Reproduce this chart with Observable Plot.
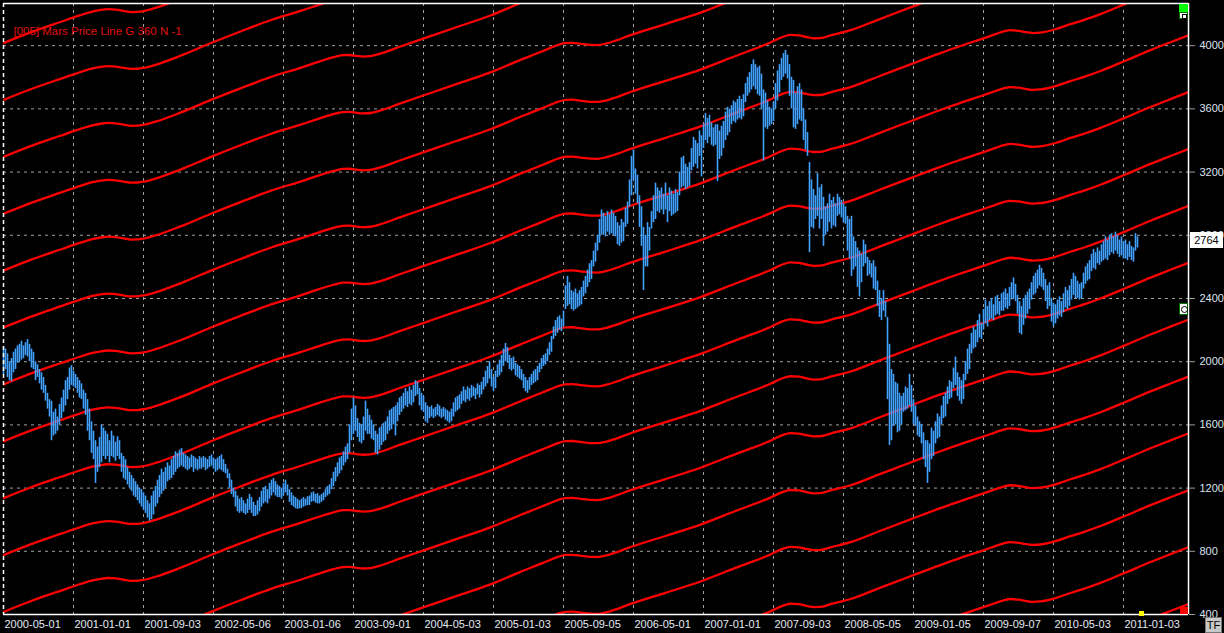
<!DOCTYPE html>
<html>
<head>
<meta charset="utf-8">
<script src="https://cdn.jsdelivr.net/npm/d3@7"></script>
<script src="https://cdn.jsdelivr.net/npm/@observablehq/plot@0.6"></script>
<style>
html,body{margin:0;padding:0;background:#000;overflow:hidden}
#wrap{position:relative;width:1224px;height:633px;background:#000}
#wrap svg{display:block}
.chrome{position:absolute;box-sizing:border-box;font-family:'Liberation Sans',Arial,sans-serif}
</style>
</head>
<body>
<div id="wrap"></div>
<script>
// ---- x axis: weekly bar index of each date label ----
const tickWeeks = [0,35,70,105,140,175,210,245,280,315,350,385,420,455,490,525,560];
const tickLabels = ["2000-05-01","2001-01-01","2001-09-03","2002-05-06","2003-01-06","2003-09-01",
  "2004-05-03","2005-01-03","2005-09-05","2006-05-01","2007-01-01","2007-09-03","2008-05-05",
  "2009-01-05","2009-09-07","2010-05-03","2011-01-03"];
const priceTicks = [400,800,1200,1600,2000,2400,2800,3200,3600,4000];

// ---- weekly bars (high / low) ----
const high = [
2095,2080,2050,2000,2020,2060,2080,2100,2110,2130,
2100,2120,2140,2110,2080,2060,2000,1980,1950,1930,
1900,1850,1800,1760,1750,1680,1700,1650,1730,1770,
1820,1880,1900,1960,1975,1940,1920,1900,1880,1860,
1820,1800,1760,1700,1620,1560,1500,1460,1520,1600,
1580,1560,1540,1500,1560,1530,1490,1525,1500,1420,
1400,1380,1330,1300,1280,1260,1240,1220,1200,1190,
1170,1150,1120,1100,1150,1180,1210,1250,1280,1320,
1300,1330,1360,1340,1380,1400,1430,1420,1440,1450,
1420,1410,1400,1390,1410,1400,1390,1380,1400,1390,
1400,1390,1380,1400,1410,1390,1380,1390,1400,1410,
1380,1350,1320,1290,1250,1200,1180,1150,1130,1140,
1120,1100,1130,1160,1140,1110,1090,1120,1140,1180,
1200,1210,1190,1230,1250,1260,1240,1220,1210,1200,
1230,1250,1220,1190,1170,1150,1140,1130,1120,1130,
1140,1130,1145,1150,1170,1175,1160,1165,1150,1160,
1170,1190,1210,1220,1260,1300,1330,1360,1390,1400,
1430,1460,1480,1600,1700,1770,1720,1640,1610,1600,
1650,1750,1700,1660,1630,1600,1560,1540,1580,1590,
1610,1620,1650,1690,1700,1710,1720,1740,1770,1780,
1800,1830,1810,1840,1820,1850,1880,1870,1830,1800,
1780,1740,1720,1710,1720,1700,1710,1730,1720,1700,
1710,1700,1690,1680,1700,1740,1770,1780,1790,1810,
1840,1820,1840,1830,1850,1840,1830,1860,1850,1870,
1900,1940,1970,2000,1950,1900,1940,1980,2010,2040,
2080,2115,2090,2040,2020,2030,1990,1980,1970,1950,
1920,1900,1880,1900,1920,1940,1950,1970,1990,2020,
2040,2050,2080,2120,2160,2220,2260,2280,2290,2270,
2320,2480,2540,2500,2450,2440,2460,2430,2450,2470,
2510,2540,2580,2620,2640,2700,2750,2800,2900,2960,
2940,2920,2950,2930,2960,2940,2920,2880,2860,2900,
2880,2970,3010,3150,3300,3340,3220,3180,3050,2980,
2850,2800,2880,2850,2950,3050,3130,3100,3080,3100,
3060,3130,3050,3100,3080,3060,3090,3070,3200,3290,
3300,3250,3230,3260,3350,3420,3400,3380,3460,3430,
3500,3570,3540,3560,3510,3480,3500,3500,3460,3490,
3520,3580,3610,3600,3620,3650,3640,3660,3680,3660,
3690,3760,3800,3830,3880,3910,3880,3860,3870,3820,
3720,3700,3650,3610,3600,3640,3760,3840,3880,3920,
3950,3970,3940,3880,3800,3780,3700,3740,3760,3720,
3600,3530,3450,3260,3150,3090,3050,3190,3100,3120,
3040,2980,3000,3060,3020,3040,3000,3060,3040,3020,
3000,2980,2920,2900,2920,2790,2760,2720,2700,2680,
2770,2740,2660,2640,2620,2640,2600,2510,2450,2400,
2450,2380,2280,2110,1950,1920,1870,1860,1800,1780,
1800,1840,1830,1920,1850,1760,1720,1650,1620,1600,
1550,1500,1500,1480,1580,1560,1620,1670,1650,1720,
1780,1800,1840,1880,1870,1960,2030,1930,1900,1880,
1920,2000,2080,2110,2180,2220,2200,2260,2300,2240,
2330,2390,2350,2380,2400,2360,2410,2420,2380,2430,
2440,2460,2430,2470,2500,2530,2490,2420,2380,2350,
2400,2420,2440,2460,2500,2540,2560,2580,2610,2590,
2560,2520,2480,2500,2400,2370,2360,2390,2410,2380,
2430,2470,2450,2480,2520,2560,2540,2510,2490,2500,
2560,2600,2620,2640,2680,2710,2690,2720,2700,2740,
2760,2790,2770,2800,2810,2790,2820,2800,2770,2790,
2760,2770,2740,2760,2730,2720,2810,2790
];
const low = [
1915,1950,1900,1880,1873,1930,1950,1990,2000,2010,
2020,2040,2030,2000,1960,1950,1880,1900,1860,1820,
1800,1750,1700,1650,1500,1530,1540,1560,1600,1640,
1680,1720,1760,1820,1850,1840,1830,1800,1770,1760,
1700,1660,1560,1500,1420,1380,1230,1300,1330,1360,
1400,1380,1400,1360,1400,1390,1370,1400,1380,1300,
1260,1250,1220,1200,1180,1150,1140,1120,1100,1080,
1060,1040,1010,990,1000,1030,1080,1100,1140,1160,
1180,1200,1240,1250,1260,1280,1300,1320,1330,1340,
1330,1320,1310,1320,1330,1300,1320,1310,1320,1320,
1330,1310,1320,1330,1340,1320,1300,1310,1320,1310,
1300,1290,1260,1200,1160,1140,1080,1050,1040,1050,
1040,1030,1040,1060,1040,1020,1020,1030,1050,1080,
1100,1110,1100,1130,1150,1170,1150,1140,1140,1130,
1150,1170,1150,1110,1090,1080,1070,1065,1070,1070,
1080,1085,1090,1090,1110,1115,1105,1100,1100,1110,
1120,1140,1150,1160,1190,1210,1240,1270,1290,1310,
1340,1360,1380,1420,1500,1540,1560,1520,1490,1480,
1500,1560,1540,1540,1510,1500,1420,1410,1440,1470,
1490,1500,1540,1560,1570,1600,1530,1620,1660,1680,
1700,1720,1710,1730,1720,1740,1780,1790,1720,1690,
1680,1620,1610,1640,1650,1640,1650,1660,1650,1640,
1650,1630,1620,1610,1620,1650,1680,1690,1700,1730,
1750,1740,1760,1750,1770,1780,1760,1790,1770,1790,
1820,1840,1860,1890,1840,1810,1830,1900,1910,1930,
1970,2000,1990,1950,1940,1950,1910,1900,1890,1880,
1830,1810,1800,1820,1850,1860,1870,1880,1930,1950,
1970,1980,2000,2040,2060,2140,2160,2180,2200,2190,
2220,2330,2350,2360,2330,2320,2330,2340,2350,2360,
2410,2430,2470,2500,2520,2600,2630,2700,2750,2800,
2800,2790,2820,2800,2810,2800,2790,2740,2730,2750,
2760,2850,2870,2980,3050,3150,3060,3000,2850,2730,
2450,2600,2600,2700,2840,2880,2900,2950,2940,2960,
2930,2960,2880,2950,2920,2930,2940,2950,3050,3100,
3110,3090,3100,3110,3210,3230,3250,3220,3300,3170,
3350,3400,3380,3420,3370,3360,3370,3140,3280,3300,
3350,3400,3430,3450,3500,3520,3510,3530,3540,3530,
3550,3640,3680,3700,3720,3740,3720,3690,3680,3600,
3270,3480,3470,3490,3500,3520,3600,3650,3700,3780,
3800,3820,3790,3680,3600,3480,3470,3500,3530,3520,
3400,3340,3300,2690,2850,2840,2900,2920,2840,2900,
2730,2800,2820,2880,2840,2860,2850,2920,2930,2910,
2880,2870,2700,2650,2540,2580,2600,2470,2410,2500,
2600,2620,2540,2550,2530,2460,2450,2350,2280,2260,
2320,2280,1760,1470,1500,1590,1600,1550,1560,1600,
1680,1690,1700,1720,1680,1600,1590,1530,1520,1480,
1380,1330,1230,1300,1380,1400,1480,1510,1520,1600,
1640,1650,1730,1760,1770,1830,1850,1780,1750,1730,
1760,1880,1920,1950,2050,2080,2090,2120,2150,2140,
2200,2240,2220,2260,2270,2260,2290,2300,2290,2320,
2320,2340,2330,2350,2390,2400,2380,2300,2180,2170,
2230,2270,2300,2330,2390,2420,2430,2460,2480,2470,
2450,2380,2330,2350,2250,2220,2240,2270,2290,2280,
2310,2340,2330,2350,2390,2420,2400,2400,2390,2400,
2460,2490,2510,2520,2570,2590,2580,2620,2610,2630,
2640,2650,2640,2670,2690,2680,2700,2680,2660,2670,
2650,2650,2640,2660,2640,2630,2700,2720
];
const lastClose = 2764;

// ---- Mars price line (one harmonic), by week index ----
const marsWeek = [0,13.5,28.5,38.5,44.5,48.5,52.5,56,60,64,67,70,76,88.5,105,118.5,133.5,148.5,
  158.5,165,169.5,173,176.5,180,183.5,188.5,198.5,209.5,226,243.5,258.5,268.5,273.5,277.5,281,
  284.5,288.5,293.5,297,301,306,313.5,331,348.5,366,383.5,389.5,393.5,397.5,401.5,405,408.5,
  413.5,423.5,438.5,453.5,468.5,478.5,488.5,496,500,503.5,507.5,511.5,515,518.5,526,533.5,541,
  548.5,561,573.5,583.5,592.5];
const marsValue = [56,124,190,233,256,266,271,268,260,253,254,259,279,336,423,490,561,620,
  662,687,700,701,695,691,694,710,755,803,875,951,1030,1080,1106,1126,1137,
  1138,1132,1125,1124,1133,1152,1187,1257,1329,1415,1500,1535,1548,1545,1535,1527,1528,
  1545,1578,1650,1722,1793,1838,1880,1913,1930,1938,1934,1925,1920,1923,1944,1976,2006,
  2040,2105,2172,2222,2266];
const harmonicStep = 360;
const harmonicCount = d3.range(-7, 13);

const bars = high.map((h, i) => ({i, high: h, low: low[i]}));
const mars = harmonicCount.flatMap(k => marsWeek.map((w, j) => ({w, v: marsValue[j] + k * harmonicStep, k})));

const font = "'Liberation Sans', Arial, sans-serif";
const chart = Plot.plot({
  width: 1224,
  height: 633,
  marginLeft: 3,
  marginRight: 36,
  marginTop: 3,
  marginBottom: 19,
  style: {background: "#000", color: "#dce4f0", fontFamily: font, fontSize: "11px"},
  x: {domain: [0, 592.5]},
  y: {domain: [400, 4267]},
  marks: [
    Plot.gridY(priceTicks, {stroke: "#a0a0a0", strokeOpacity: 1, strokeDasharray: "3,4"}),
    Plot.gridX(tickWeeks.slice(1), {stroke: "#a0a0a0", strokeOpacity: 1, strokeDasharray: "3,4"}),
    Plot.line(mars, {x: "w", y: "v", z: "k", stroke: "#ff0000", strokeWidth: 2.3, curve: "monotone-x", clip: true}),
    Plot.ruleX(bars, {x: "i", y1: "low", y2: "high", stroke: "#42a2ff", strokeWidth: 1.6}),
    Plot.ruleY([4267], {stroke: "#fff", strokeWidth: 1.5}),
    Plot.ruleY([400], {stroke: "#fff", strokeWidth: 1.5}),
    Plot.ruleX([592.5], {stroke: "#fff", strokeWidth: 1.5}),
    Plot.ruleX([0], {stroke: "#fff", strokeWidth: 1.5, strokeDasharray: "4,3"}),
    Plot.axisY(priceTicks, {anchor: "right", tickSize: 6, tickPadding: 5, stroke: "#9a9a9a", fill: "#dce4f0",
      fontSize: 11, label: null, tickFormat: d => String(d)}),
    Plot.axisX(tickWeeks, {anchor: "bottom", tickSize: 0, tickPadding: 6, textAnchor: "start", dx: 1,
      tickFormat: d => tickLabels[tickWeeks.indexOf(d)], fill: "#e6ecf5", fontSize: 11, label: null}),
    Plot.text(["[005] Mars Price Line G 360 N -1"], {frameAnchor: "top-left", textAnchor: "start", lineAnchor: "top",
      dx: 10, dy: 23, fill: "#e01010", fontSize: 11.5})
  ]
});

const wrap = document.getElementById("wrap");
wrap.appendChild(chart);
const ys = chart.scale("y"), xs = chart.scale("x");
function box(css, html = "") {
  const d = document.createElement("div");
  d.className = "chrome";
  Object.assign(d.style, css);
  d.innerHTML = html;
  wrap.appendChild(d);
  return d;
}
const right = xs.apply(592.5);
// last price tag
const yl = ys.apply(lastClose);
box({left: (right + 2) + "px", top: (yl - 8) + "px", width: "33px", height: "16px", background: "#fff",
  color: "#000", fontSize: "11px", lineHeight: "16px", textAlign: "center"}, String(lastClose));
// small control boxes
box({left: (right - 9) + "px", top: "4px", width: "9px", height: "8px", background: "#00ff00"});
box({left: (right - 9) + "px", top: "12px", width: "9px", height: "7px", background: "#fff", border: "1px solid #007000"},
  '<div style="position:absolute;left:2px;top:1px;width:3px;height:3px;border:1px solid #000"></div>');
box({left: (right - 9) + "px", top: "303px", width: "9px", height: "12px", background: "#fff", border: "1px solid #007000"},
  '<div style="position:absolute;left:1px;top:2px;width:5px;height:5px;border:1px solid #000;border-radius:50%"></div>');
box({left: (right - 8) + "px", top: (ys.apply(400) - 7) + "px", width: "8px", height: "7px", background: "#ff0000"});
box({left: (xs.apply(high.length + 1) - 2) + "px", top: (ys.apply(400) - 3) + "px", width: "5px", height: "5px", background: "#ffff00"});
box({left: "1205px", top: "617px", width: "17px", height: "16px", background: "#c8c8c8", border: "1px solid #777",
  color: "#000", fontSize: "11px", lineHeight: "14px", textAlign: "center"}, "TF");
</script>
</body>
</html>
